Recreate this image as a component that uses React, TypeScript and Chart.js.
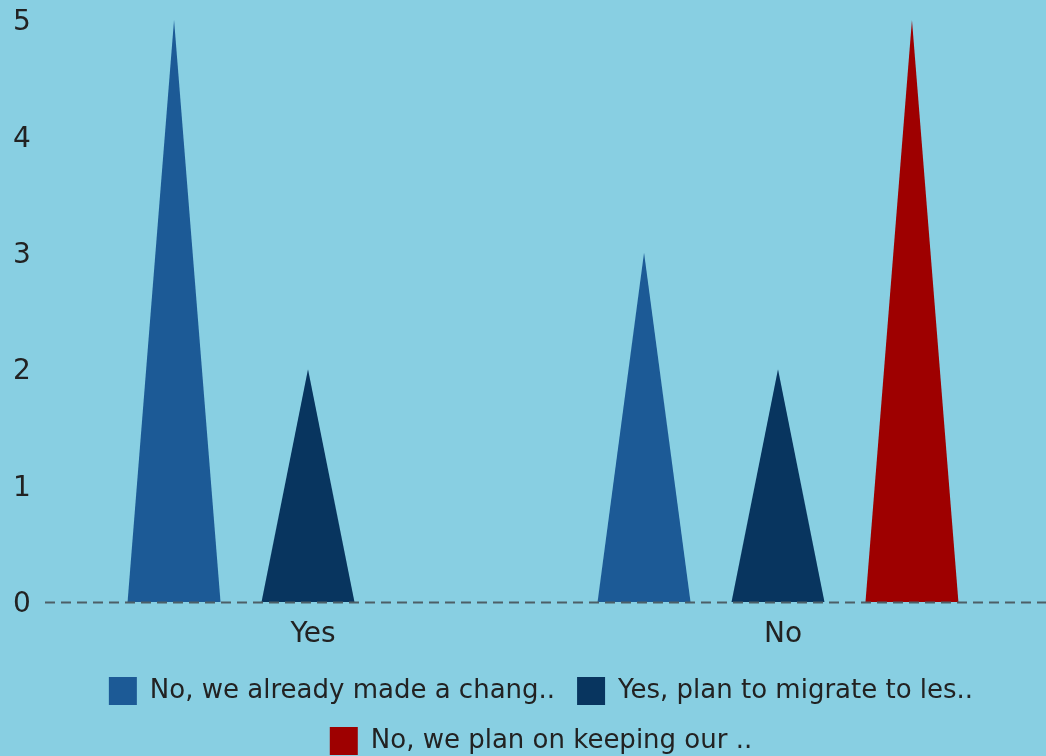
import React, { useEffect, useRef } from "react";
import { Chart, registerables } from "chart.js";

Chart.register(...registerables);

const categories = ["Yes", "No"];
const seriesLabels = [
  "No, we already made a chang..",
  "Yes, plan to migrate to les..",
  "No, we plan on keeping our ..",
];
const alreadyChanged = [5, 3];
const planToMigrate = [2, 2];
const keepingOur = [0, 5];
const seriesColors = ["#1c5a96", "#08355f", "#9e0000"];
const yMin = 0;
const yMax = 5;

const BG = "#88cfe2";
const FONT = "DejaVu Sans";

const backgroundPlugin = {
  id: "bgFill",
  beforeDraw(chart: any) {
    const { ctx, width, height } = chart;
    ctx.save();
    ctx.fillStyle = BG;
    ctx.fillRect(0, 0, width, height);
    ctx.restore();
  },
};

const legendShiftPlugin = {
  id: "legendShift",
  afterLayout(chart: any) {
    const lg = chart.legend;
    if (lg) {
      lg.left += 28;
      lg.right += 28;
    }
  },
};

const trianglePlugin = {
  id: "triangles",
  beforeDatasetDraw(chart: any, args: any) {
    const { ctx } = chart;
    const meta = args.meta;
    const ds = chart.data.datasets[args.index];
    ctx.save();
    ctx.fillStyle = ds.backgroundColor;
    meta.data.forEach((el: any) => {
      const { x, y, base, width } = el.getProps(["x", "y", "base", "width"], true);
      if (Math.abs(base - y) < 0.5) return;
      ctx.beginPath();
      ctx.moveTo(x - width / 2, base);
      ctx.lineTo(x, y);
      ctx.lineTo(x + width / 2, base);
      ctx.closePath();
      ctx.fill();
    });
    ctx.restore();
    return false;
  },
  afterDatasetsDraw(chart: any) {
    const { ctx } = chart;
    const yScale = chart.scales.y;
    const y0 = Math.round(yScale.getPixelForValue(0)) + 0.5;
    ctx.save();
    ctx.strokeStyle = "#4d5f66";
    ctx.lineWidth = 2;
    ctx.setLineDash([10, 6]);
    ctx.beginPath();
    ctx.moveTo(45, y0);
    ctx.lineTo(chart.width, y0);
    ctx.stroke();
    ctx.restore();
  },
};

export default function App() {
  const canvasRef = useRef<HTMLCanvasElement | null>(null);

  useEffect(() => {
    document.body.style.margin = "0";
    document.body.style.background = BG;
    const canvas = canvasRef.current;
    if (!canvas) return;
    const values = [alreadyChanged, planToMigrate, keepingOur];
    const chart = new Chart(canvas, {
      type: "bar",
      data: {
        labels: categories,
        datasets: seriesLabels.map((label, i) => ({
          label,
          data: values[i],
          backgroundColor: seriesColors[i],
          borderColor: seriesColors[i],
          borderWidth: 0,
          categoryPercentage: 0.855,
          barPercentage: 0.694,
        })),
      },
      options: {
        animation: false,
        responsive: true,
        maintainAspectRatio: false,
        layout: { padding: { top: 20, right: 33, left: 13, bottom: -9 } },
        plugins: {
          legend: {
            position: "bottom",
            labels: {
              boxWidth: 28,
              boxHeight: 28,
              padding: 22,
              color: "#222",
              font: { family: FONT, size: 26 },
            },
          },
          tooltip: { enabled: false },
        },
        scales: {
          x: {
            grid: { display: false },
            border: { display: false },
            afterFit(scale: any) {
              scale.height = 53;
            },
            ticks: {
              color: "#222",
              font: { family: FONT, size: 28 },
              padding: 8,
              labelOffset: 5,
            },
          },
          y: {
            min: yMin,
            max: yMax,
            grid: { display: false, drawTicks: false },
            border: { display: false },
            afterFit(scale: any) {
              scale.width = 60;
            },
            ticks: {
              stepSize: 1,
              color: "#222",
              font: { family: FONT, size: 28 },
              padding: 0,
              crossAlign: "far",
              labelOffset: 3,
            },
          },
        },
      },
      plugins: [backgroundPlugin, legendShiftPlugin, trianglePlugin],
    });
    return () => chart.destroy();
  }, []);

  return (
    <div style={{ position: "absolute", left: 0, top: 0, width: 1046, height: 756 }}>
      <canvas ref={canvasRef} />
    </div>
  );
}
